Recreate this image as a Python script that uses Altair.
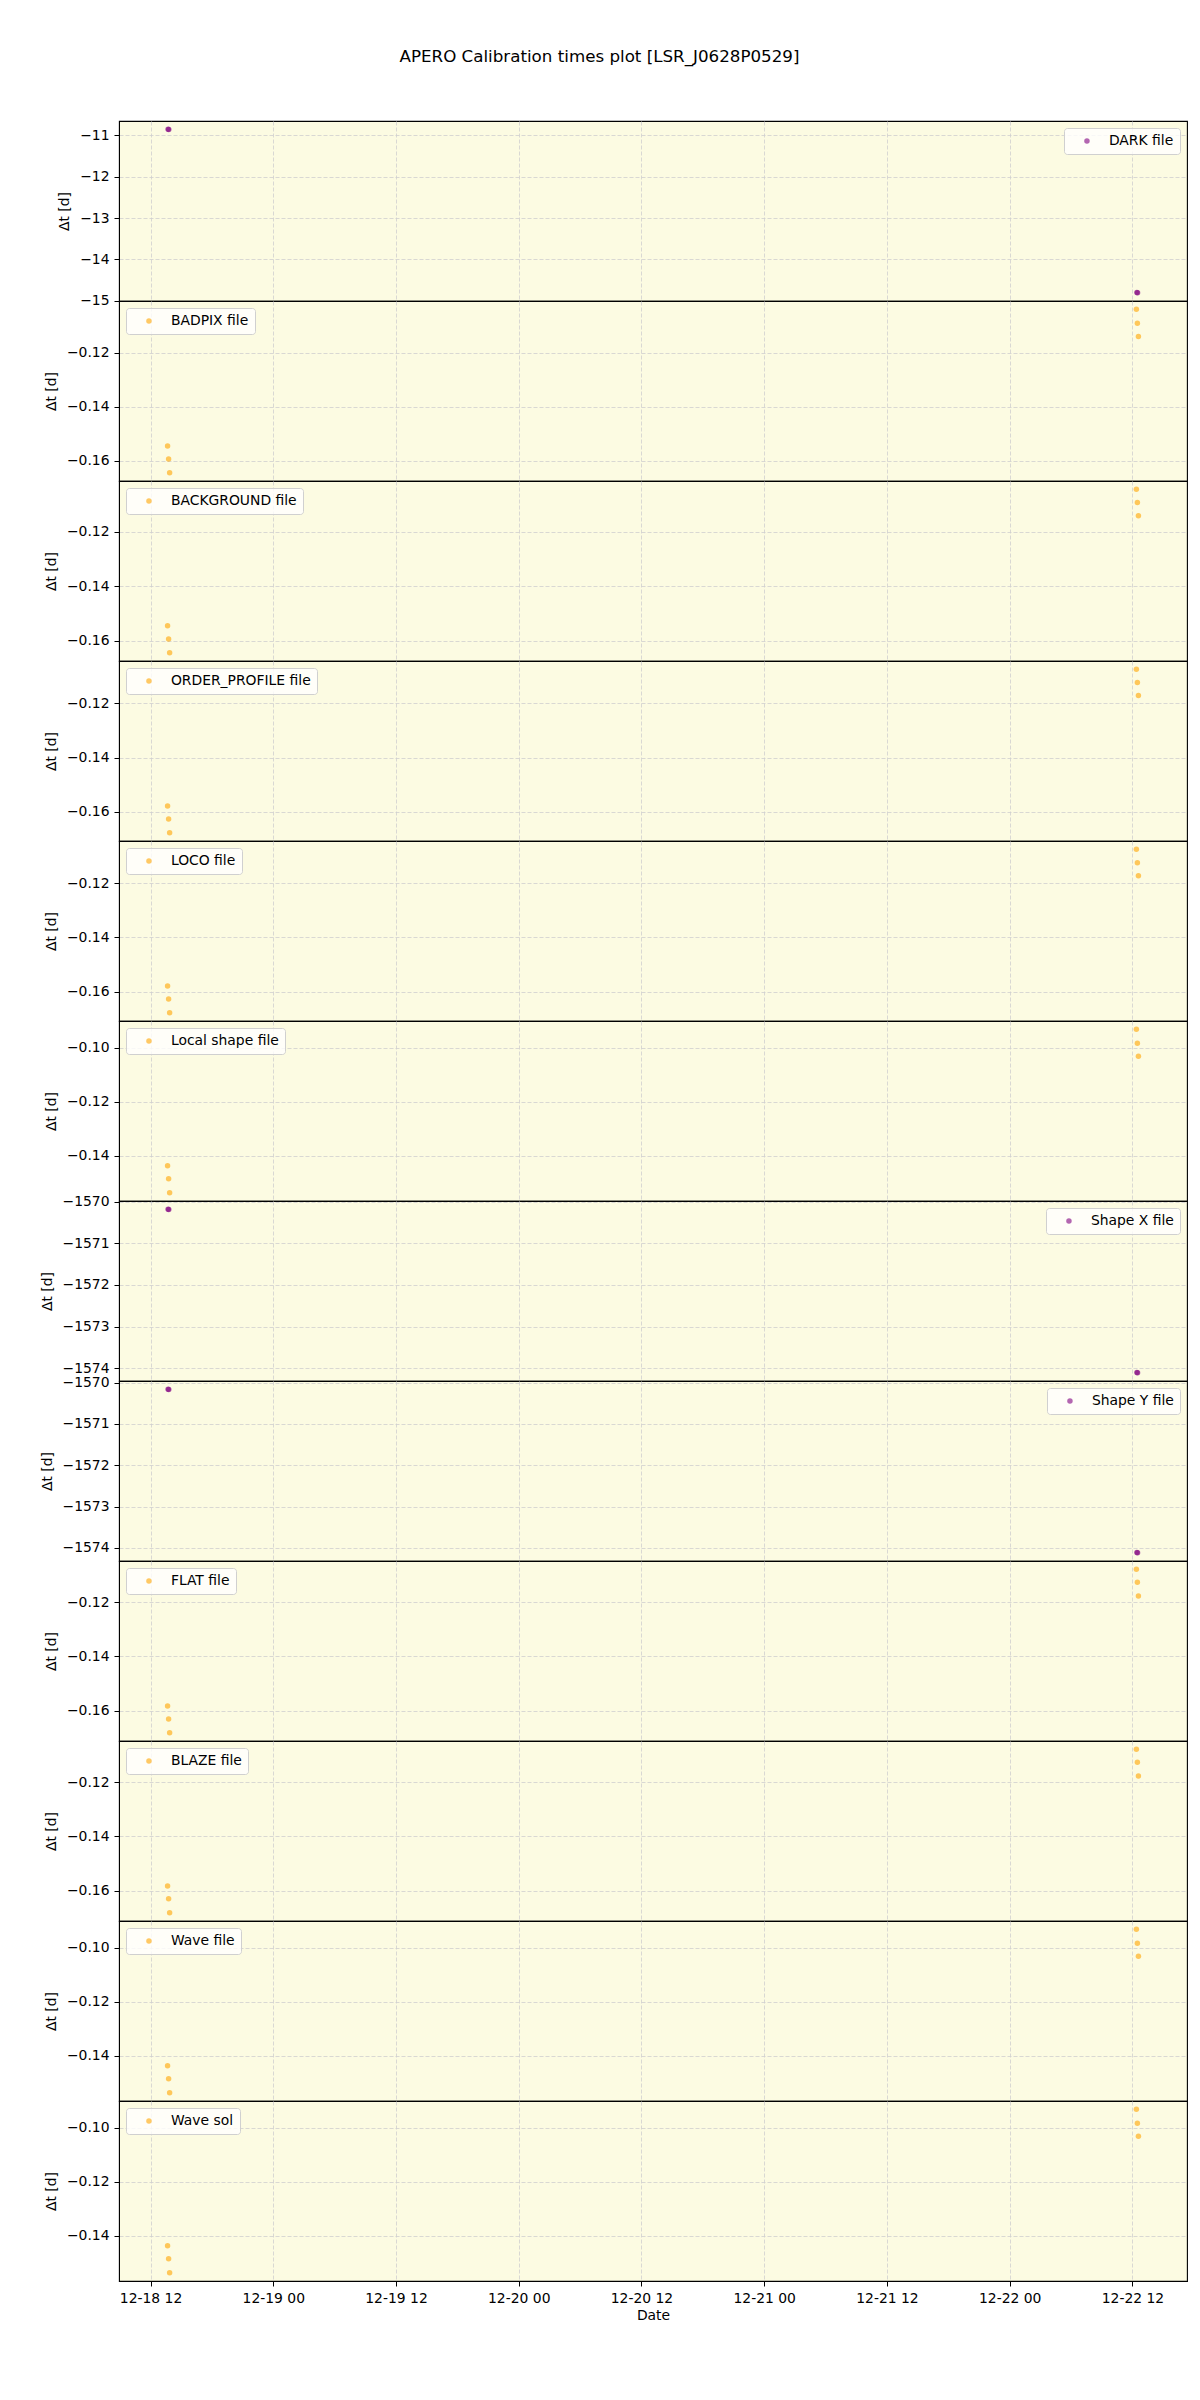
import altair as alt
import pandas as pd

FONT = "DejaVu Sans"
TITLE = "APERO Calibration times plot [LSR_J0628P0529]"

panels = ["DARK file", "BADPIX file", "BACKGROUND file", "ORDER_PROFILE file",
          "LOCO file", "Local shape file", "Shape X file", "Shape Y file",
          "FLAT file", "BLAZE file", "Wave file", "Wave sol"]
purple_panels = ["DARK file", "Shape X file", "Shape Y file"]

times_orange = ["2023-12-18T13:40:00", "2023-12-18T13:46:00", "2023-12-18T13:52:00",
                "2023-12-22T12:23:00", "2023-12-22T12:29:00", "2023-12-22T12:35:00"]
times_purple = ["2023-12-18T13:43:00", "2023-12-18T13:47:00",
                "2023-12-22T12:26:00", "2023-12-22T12:30:00"]

dark_vals = [-10.85, -10.86, -14.80, -14.81]
badpix_vals = [-0.1545, -0.1593, -0.1644, -0.1040, -0.1092, -0.1141]
background_vals = [-0.1545, -0.1593, -0.1644, -0.1044, -0.1093, -0.1141]
order_profile_vals = [-0.1578, -0.1626, -0.1677, -0.1075, -0.1124, -0.1172]
loco_vals = [-0.1579, -0.1627, -0.1678, -0.1075, -0.1125, -0.1173]
local_shape_vals = [-0.1437, -0.1485, -0.1537, -0.0932, -0.0984, -0.1032]
shape_x_vals = [-1570.18, -1570.19, -1574.10, -1574.11]
shape_y_vals = [-1570.16, -1570.17, -1574.11, -1574.12]
flat_vals = [-0.1582, -0.1630, -0.1681, -0.1079, -0.1127, -0.1178]
blaze_vals = [-0.1582, -0.1629, -0.1681, -0.1079, -0.1127, -0.1178]
wave_file_vals = [-0.1437, -0.1485, -0.1537, -0.0932, -0.0984, -0.1032]
wave_sol_vals = [-0.1437, -0.1485, -0.1537, -0.0932, -0.0984, -0.1032]

values = [dark_vals, badpix_vals, background_vals, order_profile_vals, loco_vals,
          local_shape_vals, shape_x_vals, shape_y_vals, flat_vals, blaze_vals,
          wave_file_vals, wave_sol_vals]

ticks_dark = [-11, -12, -13, -14, -15]
ticks_a = [-0.12, -0.14, -0.16]
ticks_b = [-0.10, -0.12, -0.14]
ticks_shape = [-1570, -1571, -1572, -1573, -1574]
yticks = [ticks_dark, ticks_a, ticks_a, ticks_a, ticks_a, ticks_b, ticks_shape,
          ticks_shape, ticks_a, ticks_a, ticks_b, ticks_b]

x_tick_days = [(18, 12), (19, 0), (19, 12), (20, 0), (20, 12), (21, 0), (21, 12), (22, 0), (22, 12)]
xticks = [alt.DateTime(year=2023, month=12, date=d, hours=h) for d, h in x_tick_days]
xmin = alt.DateTime(year=2023, month=12, date=18, hours=8, minutes=55)
xmax = alt.DateTime(year=2023, month=12, date=22, hours=17, minutes=20)

BG = "#FCFBE2"
ORANGE = "#FFA500"
PURPLE = "#800080"

charts = []
for i, name in enumerate(panels):
    vals = values[i]
    is_purple = name in purple_panels
    times = times_purple if is_purple else times_orange
    df = pd.DataFrame({"time": times, "dt": vals, "label": [name] * len(vals)})
    lo, hi = min(vals), max(vals)
    pad = (hi - lo) * 0.05
    last = i == len(panels) - 1
    if last:
        xaxis = alt.Axis(values=xticks, format="%m-%d %H", title="Date", grid=True,
                         labelFlush=False, titlePadding=4)
    else:
        xaxis = alt.Axis(values=xticks, labels=False, ticks=False, domain=False,
                         title=None, grid=True)
    first = yticks[i][0]
    if abs(first) > 1000:
        ext, fmt = 55, "d"
    elif abs(first) > 1:
        ext, fmt = 38, "d"
    else:
        ext, fmt = 51, ".2f"
    color = PURPLE if is_purple else ORANGE
    orient = "top-right" if is_purple else "top-left"
    ch = alt.Chart(df).mark_circle(size=30, opacity=0.6).encode(
        x=alt.X("time:T", scale=alt.Scale(domain=[xmin, xmax], nice=False), axis=xaxis),
        y=alt.Y("dt:Q",
                scale=alt.Scale(domain=[lo - pad, hi + pad], nice=False, zero=False),
                axis=alt.Axis(values=yticks[i], format=fmt, title="Δt [d]",
                              minExtent=ext, maxExtent=ext, titlePadding=10,
                              labelFlush=False)),
        color=alt.Color("label:N", scale=alt.Scale(domain=[name], range=[color]),
                        legend=alt.Legend(title=None, orient=orient, offset=7,
                                          fillColor="rgba(255,255,255,0.8)",
                                          strokeColor="#d0d0d0", cornerRadius=3,
                                          padding=6, symbolType="circle", symbolSize=30,
                                          symbolOpacity=0.6, symbolStrokeWidth=0,
                                          symbolOffset=10, labelOffset=15,
                                          labelFont=FONT, labelFontSize=13.9,
                                          labelColor="black")),
    ).properties(width=1068, height=180)
    charts.append(ch)

chart = alt.vconcat(*charts, spacing=0, bounds="flush").resolve_scale(
    color="independent", y="independent"
).resolve_legend(color="independent").properties(
    title=alt.TitleParams(TITLE, font=FONT, fontSize=16.7, fontWeight="normal",
                          anchor="middle", offset=55, color="black", dx=-14),
    padding={"top": 40, "left": 31, "right": 4, "bottom": 20},
).configure_view(
    fill=BG, stroke="black", strokeWidth=1.1
).configure_axis(
    labelFont=FONT, labelFontSize=13.9, labelColor="black",
    titleFont=FONT, titleFontSize=13.9, titleFontWeight="normal", titleColor="black",
    gridColor="#cfcfcf", gridDash=[4, 2], gridWidth=0.8,
    tickColor="black", tickSize=5, labelPadding=5, domainColor="black"
)

chart.save("out.html", embed_options={"renderer": "svg", "actions": False})
